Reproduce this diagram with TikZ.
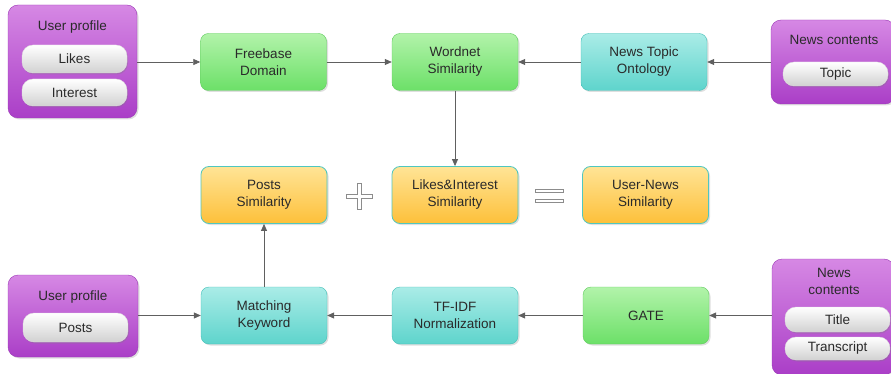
\documentclass[tikz,border=0pt]{standalone}
\usepackage{fontspec}
\setmainfont{Liberation Sans}
\usetikzlibrary{shadows,arrows.meta}
\definecolor{purT}{HTML}{D688E4}
\definecolor{purB}{HTML}{AA3EC7}
\definecolor{purD}{HTML}{9B38B6}
\definecolor{grnT}{HTML}{B2F3AA}
\definecolor{grnB}{HTML}{6CE068}
\definecolor{grnD}{HTML}{62CC60}
\definecolor{cyT}{HTML}{AAECE7}
\definecolor{cyB}{HTML}{5ED4CC}
\definecolor{cyD}{HTML}{45C0B8}
\definecolor{orT}{HTML}{FFE496}
\definecolor{orB}{HTML}{FDC03A}
\definecolor{orD}{HTML}{4FC7C0}
\definecolor{txt}{HTML}{2A2A2A}
\definecolor{arr}{HTML}{606060}
\begin{document}
\begin{tikzpicture}[x=1pt,y=-1pt,
  font=\fontsize{13.5}{17}\selectfont, text=txt,
  shad/.style={drop shadow={opacity=0.25,shadow xshift=1.5pt,shadow yshift=-1.5pt}},
  box/.style={rounded corners=8pt, minimum width=126pt, minimum height=57pt, align=center, inner sep=0pt, shad},
  grn/.style={box, top color=grnT, bottom color=grnB, draw=grnD},
  cyn/.style={box, top color=cyT, bottom color=cyB, draw=cyD},
  org/.style={box, top color=orT, bottom color=orB, draw=orD, line width=0.8pt},
  pur/.style={rounded corners=10pt, top color=purT, bottom color=purB, draw=purD, inner sep=0pt, shad},
  pill/.style={rounded corners=11pt, top color=white, bottom color=black!18, draw=black!12, inner sep=0pt, minimum width=105pt, align=center, drop shadow={opacity=0.3,shadow xshift=1pt,shadow yshift=-1.5pt}},
  ttl/.style={align=center, inner sep=0pt, text=txt},
  conn/.style={draw=arr, line width=0.7pt, -{Triangle[length=7pt,width=6pt]}, arr},
  sym/.style={draw=black!45, fill=white, line width=0.6pt}
]
\useasboundingbox (0,0) rectangle (891,374);
\clip (0,0) rectangle (891,374);

% top-left user profile
\node[pur, minimum width=129pt, minimum height=113pt] (up1) at (72.5,61.5) {};
\node[ttl] (up1t) at (72.5,27) {User profile};
\node[pill, minimum height=28pt] (likes) at (74.5,59) {Likes};
\node[pill, minimum height=27pt] (interest) at (74.5,92.5) {Interest};

% top-right news contents
\node[pur, minimum width=124pt, minimum height=84pt] (nc1) at (833,62) {};
\node[ttl] (nc1t) at (834,40) {News contents};
\node[pill, minimum height=24pt] (topic) at (835.5,74) {Topic};

% bottom-left user profile
\node[pur, minimum width=130pt, minimum height=82pt] (up2) at (73,316) {};
\node[ttl] (up2t) at (73,297) {User profile};
\node[pill, minimum height=29pt] (posts) at (75.5,327.5) {Posts};

% bottom-right news contents
\node[pur, minimum width=122pt, minimum height=116pt] (nc2) at (833,317) {};
\node[ttl] (nc2t) at (834,281.5) {News\\contents};
\node[pill, minimum height=25pt] (title) at (837.5,319.5) {Title};
\node[pill, minimum height=23pt] (transcript) at (837.5,348.5) {Transcript};

% process boxes
\node[grn] (fb) at (263.5,62) {Freebase\\Domain};
\node[grn] (wn) at (455,62) {Wordnet\\Similarity};
\node[cyn] (nto) at (644,62) {News Topic\\Ontology};

\node[org] (ps) at (264,195) {Posts\\Similarity};
\node[org] (li) at (455,195) {Likes\&Interest\\Similarity};
\node[org] (uns) at (645.5,195) {User-News\\Similarity};

\node[cyn] (mk) at (264,315.5) {Matching\\Keyword};
\node[cyn] (tf) at (455,315.5) {TF-IDF\\Normalization};
\node[grn] (gate) at (646,315.5) {GATE};

% plus and equals
\draw[sym] (346,194)--(357,194)--(357,183)--(361,183)--(361,194)--(372,194)--(372,198)--(361,198)--(361,209)--(357,209)--(357,198)--(346,198)--cycle;
\draw[sym] (535,189) rectangle (563,192.5);
\draw[sym] (535,199) rectangle (563,202.5);

% connectors
\draw[conn] (up1.east |- fb.west) -- (fb.west);
\draw[conn] (fb.east) -- (wn.west);
\draw[conn] (nto.west) -- (wn.east);
\draw[conn] (nc1.west |- nto.east) -- (nto.east);
\draw[conn] (wn.south) -- (li.north);
\draw[conn] (mk.north) -- (ps.south);
\draw[conn] (up2.east |- mk.west) -- (mk.west);
\draw[conn] (tf.west) -- (mk.east);
\draw[conn] (gate.west) -- (tf.east);
\draw[conn] (nc2.west |- gate.east) -- (gate.east);
\end{tikzpicture}
\end{document}
